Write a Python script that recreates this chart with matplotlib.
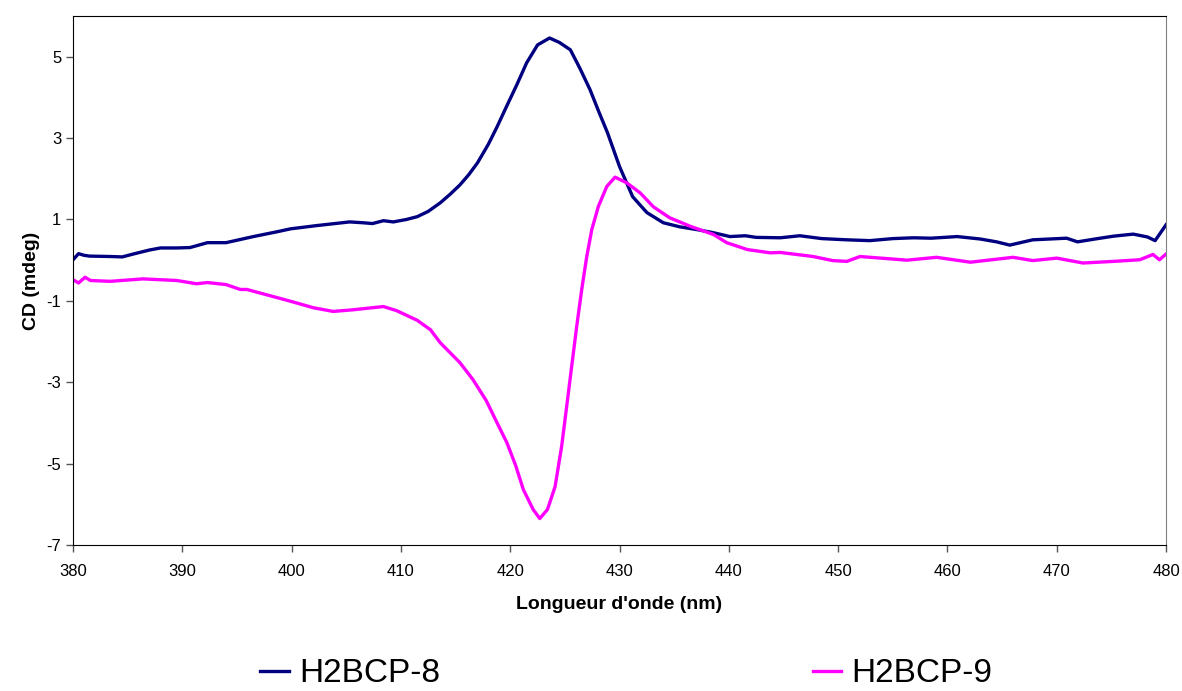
import matplotlib
matplotlib.use("Agg")
import matplotlib.pyplot as plt

# H2BCP-8
wl_8 = [380.0, 380.5, 381.0, 381.5, 383.4, 384.5, 385.5, 387.0, 388.0, 389.5,
        390.7, 392.3, 394.0, 396.5, 398.7, 399.9, 402.3, 405.3, 406.5, 407.4,
        408.4, 409.3, 410.5, 411.5, 412.5, 413.6, 414.5, 415.4, 416.2, 417.0,
        418.0, 418.8, 419.7, 420.6, 421.5, 422.5, 423.6, 424.5, 425.5, 426.4,
        427.3, 428.1, 428.9, 430.0, 431.2, 432.5, 434.0, 435.5, 437.1, 438.5,
        440.1, 441.5, 442.5, 444.7, 446.5, 448.5, 450.8, 452.9, 455.0, 456.9,
        458.5, 460.9, 463.0, 464.5, 465.7, 467.8, 470.9, 471.9, 473.5, 475.2,
        477.0, 478.3, 479.0, 480.0]
cd_8 = [0.01, 0.16, 0.12, 0.10, 0.09, 0.08, 0.15, 0.25, 0.30, 0.30,
        0.31, 0.43, 0.43, 0.58, 0.70, 0.77, 0.85, 0.94, 0.92, 0.90,
        0.97, 0.94, 1.00, 1.07, 1.20, 1.41, 1.62, 1.85, 2.10, 2.39,
        2.85, 3.28, 3.80, 4.31, 4.85, 5.29, 5.46, 5.35, 5.17, 4.70,
        4.19, 3.65, 3.13, 2.30, 1.56, 1.17, 0.92, 0.82, 0.75, 0.68,
        0.58, 0.60, 0.56, 0.55, 0.60, 0.53, 0.50, 0.48, 0.53, 0.55,
        0.54, 0.58, 0.52, 0.45, 0.37, 0.50, 0.54, 0.45, 0.52, 0.59,
        0.64, 0.57, 0.48, 0.87]

# H2BCP-9
wl_9 = [380.0, 380.5, 381.1, 381.6, 383.4, 386.4, 389.5, 391.3, 392.3, 394.0,
        395.3, 395.9, 397.7, 399.9, 402.0, 403.8, 405.6, 407.0, 408.4, 409.6,
        411.5, 412.7, 413.6, 415.4, 416.6, 417.8, 418.8, 419.7, 420.5, 421.2,
        422.1, 422.7, 423.4, 424.1, 424.7, 425.26, 425.62, 426.08, 426.54, 427.0,
        427.46, 428.06, 428.83, 429.59, 430.66, 431.9, 433.1, 434.6, 436.5, 438.6,
        439.8, 441.7, 443.8, 444.7, 447.7, 449.5, 450.8, 452.0, 456.3, 459.0,
        462.1, 466.0, 467.8, 470.0, 472.4, 475.2, 477.6, 478.8, 479.4, 480.0]
cd_9 = [-0.48, -0.56, -0.42, -0.50, -0.52, -0.46, -0.50, -0.58, -0.55, -0.60,
        -0.72, -0.72, -0.85, -1.01, -1.17, -1.26, -1.22, -1.18, -1.14, -1.24,
        -1.48, -1.71, -2.03, -2.52, -2.94, -3.45, -4.00, -4.49, -5.05, -5.64,
        -6.13, -6.35, -6.13, -5.57, -4.58, -3.39, -2.61, -1.63, -0.72, 0.09,
        0.75, 1.32, 1.81, 2.04, 1.90, 1.65, 1.31, 1.04, 0.83, 0.63,
        0.43, 0.26, 0.18, 0.19, 0.09, -0.01, -0.03, 0.09, 0.00, 0.07,
        -0.05, 0.07, -0.01, 0.05, -0.07, -0.03, 0.01, 0.14, 0.01, 0.15]

x_ticks = [380, 390, 400, 410, 420, 430, 440, 450, 460, 470, 480]
y_ticks = [-7, -5, -3, -1, 1, 3, 5]

plt.rcParams["font.family"] = ["Liberation Sans", "DejaVu Sans"]
plt.rcParams["axes.unicode_minus"] = False

fig = plt.figure(figsize=(11.82, 6.91), dpi=100)
ax = fig.add_axes([0.0618, 0.2113, 0.9247, 0.7655])

ax.plot(wl_8, cd_8, color="#000080", lw=2.4, label="H2BCP-8")
ax.plot(wl_9, cd_9, color="#FF00FF", lw=2.4, label="H2BCP-9")

ax.set_xlim(380, 480)
ax.set_ylim(-7, 6)
ax.set_xticks(x_ticks)
ax.set_yticks(y_ticks)
ax.tick_params(direction="out", length=5, width=1, labelsize=12, color="#555555")
ax.tick_params(axis="x", pad=9)
ax.spines["right"].set_color("#808080")
for s in ["left", "bottom", "top"]:
    ax.spines[s].set_color("black")

ax.set_xlabel("Longueur d'onde (nm)", fontsize=14, fontweight="bold", labelpad=12)
ax.set_ylabel("CD (mdeg)", fontsize=14, fontweight="bold", labelpad=5)

fig.legend(loc="center", bbox_to_anchor=(0.53, 0.025), ncol=2, frameon=False,
           fontsize=24, handlelength=0.85, handletextpad=0.3, columnspacing=11.2)

fig.savefig("out.png", dpi=100)
